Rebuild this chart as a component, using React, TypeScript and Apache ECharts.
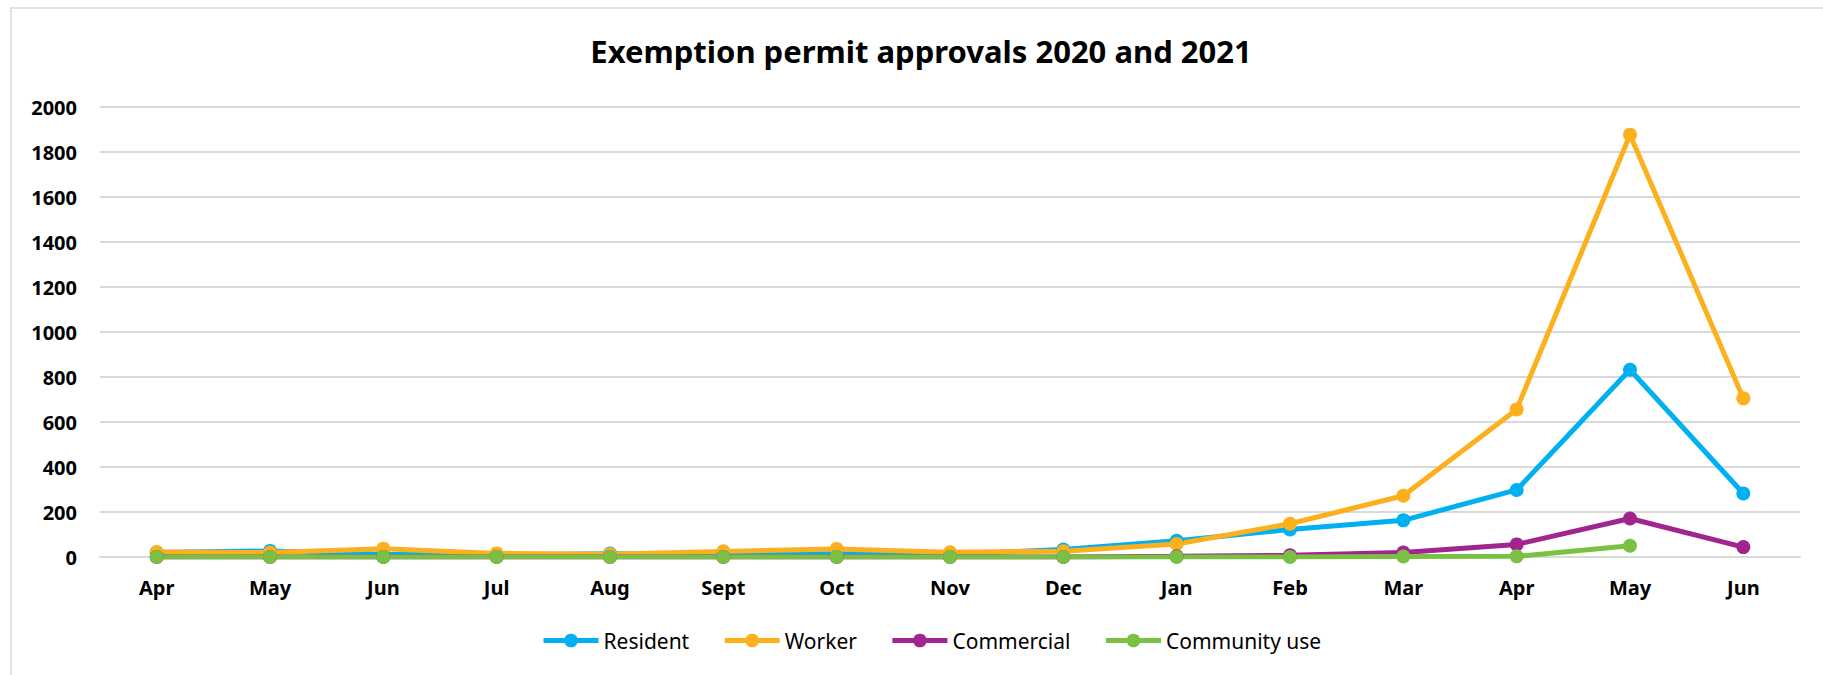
import React, { useEffect, useRef } from "react";
import * as echarts from "echarts";

const categories = ["Apr", "May", "Jun", "Jul", "Aug", "Sept", "Oct", "Nov", "Dec", "Jan", "Feb", "Mar", "Apr", "May", "Jun"];
const resident = [20, 27, 12, 10, 15, 10, 15, 12, 33, 72, 122, 163, 298, 832, 282];
const worker = [22, 20, 37, 16, 12, 25, 36, 21, 26, 58, 148, 272, 656, 1877, 705];
const commercial = [0, 0, 0, 0, 0, 0, 0, 0, 0, 3, 8, 20, 56, 171, 44];
const communityUse = [0, 0, 0, 0, 0, 0, 0, 0, 0, 0, 0, 2, 3, 50, null];
const yTicks = { min: 0, max: 2000, interval: 200 };

const FONT = "'Noto Sans', sans-serif";

export default function App() {
  const ref = useRef<HTMLDivElement>(null);
  useEffect(() => {
    if (!ref.current) return;
    const chart = echarts.init(ref.current, null, { renderer: "svg" });
    const mk = (name: string, data: (number | null)[], color: string) => ({
      name,
      type: "line",
      data,
      symbol: "circle",
      symbolSize: 14,
      showSymbol: true,
      lineStyle: { color, width: 5 },
      itemStyle: { color },
      emphasis: { disabled: true },
    });
    chart.setOption({
      animation: false,
      backgroundColor: "#ffffff",
      title: {
        text: "Exemption permit approvals 2020 and 2021",
        left: 916,
        textAlign: "center",
        top: 30,
        textStyle: { fontFamily: FONT, fontSize: 31, fontWeight: "bold", color: "#000" },
      },
      graphic: [
        {
          type: "rect",
          shape: { x: 11, y: 8, width: 1830, height: 700 },
          style: { fill: "none", stroke: "#D9D9D9", lineWidth: 1.5 },
          silent: true,
        },
      ],
      legend: {
        left: 536,
        top: 625,
        itemWidth: 55,
        itemHeight: 17,
        itemGap: 33,
        lineStyle: { width: 5 },
        textStyle: { fontFamily: FONT, fontSize: 21, color: "#000" },
        data: ["Resident", "Worker", "Commercial", "Community use"],
      },
      grid: { left: 100, right: 23, top: 107, bottom: 118, containLabel: false },
      xAxis: {
        type: "category",
        data: categories,
        boundaryGap: true,
        axisLine: { lineStyle: { color: "#D9D9D9", width: 2 } },
        axisTick: { show: false },
        axisLabel: { fontFamily: FONT, fontSize: 20, fontWeight: "bold", color: "#000", margin: 20 },
      },
      yAxis: {
        type: "value",
        min: yTicks.min,
        max: yTicks.max,
        interval: yTicks.interval,
        axisLine: { show: false },
        axisTick: { show: false },
        splitLine: { lineStyle: { color: "#D9D9D9", width: 2 } },
        axisLabel: {
          fontFamily: FONT,
          fontSize: 20,
          fontWeight: "bold",
          color: "#000",
          margin: 23,
          formatter: (v: number) => String(v),
        },
      },
      series: [
        mk("Resident", resident, "#00B0F0"),
        mk("Worker", worker, "#FDB01E"),
        mk("Commercial", commercial, "#A0258F"),
        mk("Community use", communityUse, "#7AC143"),
      ],
    });
    return () => chart.dispose();
  }, []);
  return (
    <div
      ref={ref}
      style={{ position: "fixed", left: 0, top: 0, width: 1823, height: 675, background: "#fff" }}
    />
  );
}
